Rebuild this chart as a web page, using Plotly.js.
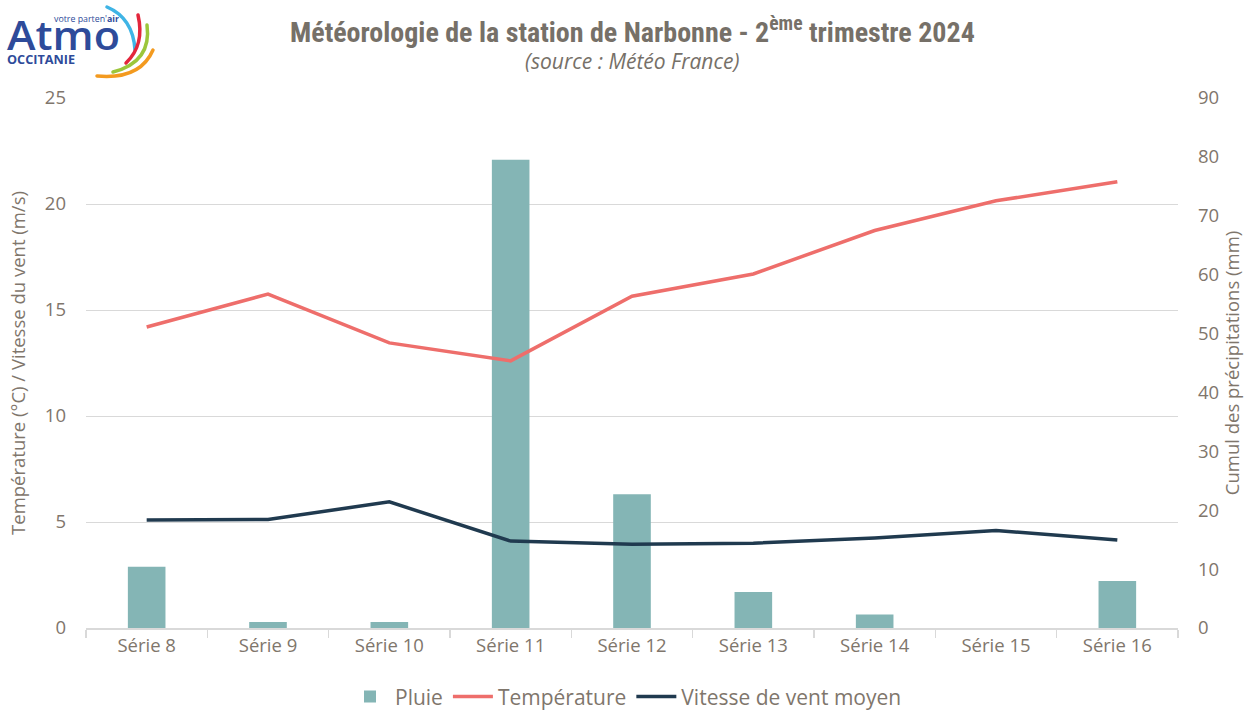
<!DOCTYPE html>
<html><head><meta charset="utf-8">
<script src="https://cdn.plot.ly/plotly-3.0.1.min.js"></script>
<style>html,body{margin:0;padding:0;background:#fff;}#chart{width:1252px;height:711px;}
#logo{position:absolute;left:0;top:0;width:170px;height:85px;}</style>
</head><body>
<div id="chart"></div>
<svg id="logo" viewBox="0 0 170 85" xmlns="http://www.w3.org/2000/svg">
  <text x="7" y="50" font-family="Open Sans, sans-serif" font-weight="600" font-size="39" fill="#2E4B9A" textLength="113" lengthAdjust="spacingAndGlyphs">Atmo</text>
  <text x="54" y="22" font-family="Open Sans, sans-serif" font-size="9.5" fill="#2E4B9A" textLength="65" lengthAdjust="spacingAndGlyphs">votre parten'<tspan font-weight="bold">air</tspan></text>
  <text x="7" y="64" font-family="Open Sans, sans-serif" font-weight="bold" font-size="12" fill="#2E4B9A" textLength="68" lengthAdjust="spacingAndGlyphs">OCCITANIE</text>
  <path d="M107 7 Q133 18 135 50" stroke="#3FB4E5" stroke-width="3.5" fill="none" stroke-linecap="round"/>
  <path d="M138 15 Q145 45 126 63" stroke="#E3263C" stroke-width="3.5" fill="none" stroke-linecap="round"/>
  <path d="M147 25 Q152 62 113 72" stroke="#9CC63B" stroke-width="3.5" fill="none" stroke-linecap="round"/>
  <path d="M153 50 Q140 80 97 76" stroke="#F39A1F" stroke-width="3.5" fill="none" stroke-linecap="round"/>
</svg>
<script>
const categories = ["Série 8","Série 9","Série 10","Série 11","Série 12","Série 13","Série 14","Série 15","Série 16"];
const pluie = [10.4, 1.0, 1.0, 79.5, 22.7, 6.1, 2.3, 0, 8.0];
const temperature = [14.2, 15.75, 13.45, 12.6, 15.65, 16.7, 18.75, 20.15, 21.05];
const ventMoyen = [5.1, 5.12, 5.95, 4.1, 3.95, 4.0, 4.25, 4.6, 4.15];
const leftTicks = [0,5,10,15,20,25];
const rightTicks = [0,10,20,30,40,50,60,70,80,90];

const gray = '#7F766C';
const fam = 'Open Sans, Noto Sans, sans-serif';
const tickFont = {family: fam, size: 18.5, color: gray};

const data = [
  {type:'bar', name:'Pluie', x:categories, y:pluie, yaxis:'y', marker:{color:'#84B5B5'}, width:0.31},
  {type:'scatter', mode:'lines', name:'Température', x:categories, y:temperature, yaxis:'y2', line:{color:'#EE6E6B', width:3.5}},
  {type:'scatter', mode:'lines', name:'Vitesse de vent moyen', x:categories, y:ventMoyen, yaxis:'y2', line:{color:'#203A4F', width:3.5}}
];

const layout = {
  width:1252, height:711,
  margin:{l:86, r:74, t:98, b:83, autoexpand:false},
  paper_bgcolor:'#fff', plot_bgcolor:'#fff',
  showlegend:true,
  legend:{orientation:'h', x:0.5, xanchor:'center', xref:'container', yref:'container', y:0.02, yanchor:'middle',
    font:{family:fam, size:21, color:gray}, itemwidth:40, tracegroupgap:0},
  xaxis:{type:'category', showgrid:false, showline:true, linecolor:'#D9D9D9', linewidth:1.5,
    ticks:'outside', tickson:'boundaries', ticklen:8, tickcolor:'#D9D9D9', tickwidth:1.5,
    tickfont:tickFont, fixedrange:true, automargin:false},
  yaxis:{range:[0,90], tickvals:rightTicks, side:'right', showgrid:false, zeroline:false,
    showline:false, tickfont:tickFont, ticks:'', ticklabelstandoff:19, automargin:false,
    title:{text:'Cumul des précipitations (mm)', font:{family:fam, size:18.5, color:gray}, standoff:6}},
  yaxis2:{range:[0,25], tickvals:leftTicks, overlaying:'y', side:'left', showgrid:true, gridcolor:'#D9D9D9', gridwidth:1,
    zeroline:false, showline:false, tickfont:tickFont, ticks:'', ticklabelstandoff:19, automargin:false,
    title:{text:'Température (°C) / Vitesse du vent (m/s)', font:{family:fam, size:18.5, color:gray}, standoff:14}},
  annotations:[
    {text:'<b>Météorologie de la station de Narbonne - 2<sup>ème</sup> trimestre 2024</b>', xref:'paper', yref:'paper',
      x:0.5, y:1, xanchor:'center', yanchor:'middle', yshift:68, showarrow:false,
      font:{family:'Liberation Sans Narrow, Roboto Condensed, Arial Narrow, sans-serif', size:28, color:'#767068'}},
    {text:'<i>(source : Météo France)</i>', xref:'paper', yref:'paper',
      x:0.5, y:1, xanchor:'center', yanchor:'middle', yshift:37, showarrow:false,
      font:{family:fam, size:21, color:'#767068'}}
  ]
};
Plotly.newPlot('chart', data, layout, {displayModeBar:false, staticPlot:true});
</script>
</body></html>
